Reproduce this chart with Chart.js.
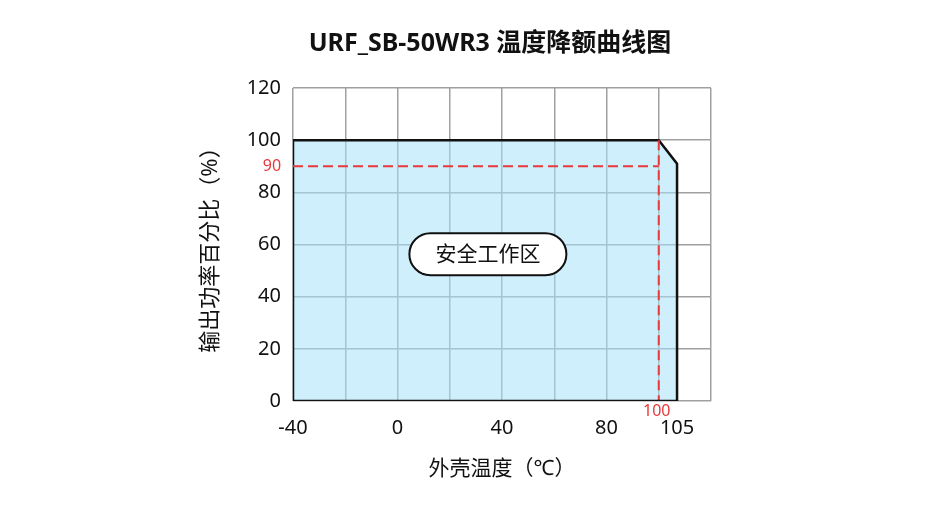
<!DOCTYPE html>
<html>
<head>
<meta charset="utf-8">
<script src="https://cdn.jsdelivr.net/npm/chart.js@4"></script>
<style>
  html, body { margin: 0; padding: 0; background: #fff; }
  #wrap { width: 950px; height: 510px; }
</style>
</head>
<body>
<div id="wrap"><canvas id="derating"></canvas></div>
<script>
// 降额曲线数据
const curveTemp = [-40, -40, 100, 107, 107];
const curvePower = [0, 100, 100, 91, 0];
// 底边
const baseTemp = [-40, 107];
const basePower = [0, 0];

// 红色虚线参考
const refHTemp = [-40, 100];
const refHPower = [90, 90];
const refVTemp = [100, 100];
const refVPower = [100, 0];

// 坐标刻度
const xTickValues = [-40, -20, 0, 20, 40, 60, 80, 100, 107, 120];
const xTickLabels = ['-40', '', '0', '', '40', '', '80', '', '105', ''];
const yTickValues = [0, 20, 40, 60, 80, 100, 120];
const yTickLabels = ['0', '20', '40', '60', '80', '100', '120'];

const fontFamily = '"Noto Sans", "Noto Sans CJK SC", sans-serif';
const red = '#e8393b';

const toPoints = (xs, ys) => xs.map((x, i) => ({ x: x, y: ys[i] }));

// 标题、安全工作区标签、红色数值
const decorations = {
    id: 'decorations',
    afterDraw(chart) {
        const ctx = chart.ctx;
        const xs = chart.scales.x;
        const ys = chart.scales.y;
        ctx.save();

        ctx.fillStyle = '#111';
        ctx.font = 'bold 25px ' + fontFamily;
        ctx.textAlign = 'center';
        ctx.textBaseline = 'middle';
        ctx.fillText('URF_SB-50WR3 温度降额曲线图', 490, 44);

        // 安全工作区
        const cx = xs.getPixelForValue(34.6);
        const cy = ys.getPixelForValue(56.3);
        const w = 157, h = 42, r = 21;
        ctx.beginPath();
        ctx.roundRect(cx - w / 2, cy - h / 2, w, h, r);
        ctx.fillStyle = '#fff';
        ctx.fill();
        ctx.lineWidth = 2;
        ctx.strokeStyle = '#111';
        ctx.stroke();
        ctx.fillStyle = '#111';
        ctx.font = '21px ' + fontFamily;
        ctx.fillText('安全工作区', cx, cy + 1);

        // 红色标注
        ctx.fillStyle = red;
        ctx.font = '16px ' + fontFamily;
        ctx.fillText('90', xs.left - 21, ys.getPixelForValue(90));
        ctx.fillText('100', xs.getPixelForValue(100) - 2, ys.bottom + 10);
        ctx.restore();
    }
};

const ctx = document.getElementById('derating').getContext('2d');
const chart = new Chart(ctx, {
    type: 'line',
    data: {
        datasets: [
            {
                data: toPoints(refHTemp, refHPower),
                borderColor: red,
                borderWidth: 2,
                borderDash: [10, 5],
                pointRadius: 0,
                fill: false,
                order: 1
            },
            {
                data: toPoints(refVTemp, refVPower),
                borderColor: red,
                borderWidth: 2,
                borderDash: [10, 5],
                pointRadius: 0,
                fill: false,
                order: 1
            },
            {
                data: toPoints(baseTemp, basePower),
                borderColor: '#111',
                borderWidth: 2.5,
                pointRadius: 0,
                fill: false,
                order: 0
            },
            {
                data: toPoints(curveTemp, curvePower),
                fill: 'origin',
                backgroundColor: 'rgba(170, 225, 250, 0.55)',
                borderColor: '#111',
                borderWidth: 2.5,
                pointRadius: 0,
                tension: 0,
                order: 2
            }
        ]
    },
    options: {
        responsive: true,
        maintainAspectRatio: false,
        animation: false,
        layout: { padding: { left: 198, right: 239, top: 88, bottom: 0 } },
        plugins: {
            legend: { display: false },
            tooltip: { enabled: false }
        },
        scales: {
            x: {
                type: 'linear',
                min: -40,
                max: 120,
                afterBuildTicks: (scale) => {
                    scale.ticks = xTickValues.map(v => ({ value: v }));
                },
                afterFit: (scale) => { scale.height = 109; },
                ticks: {
                    autoSkip: false,
                    maxRotation: 0,
                    padding: 15,
                    color: '#111',
                    font: { family: fontFamily, size: 20 },
                    callback: (v) => xTickLabels[xTickValues.indexOf(v)]
                },
                grid: {
                    color: (c) => (c.tick && c.tick.value === 107 ? 'rgba(0,0,0,0)' : '#a0a0a0'),
                    lineWidth: 1.5,
                    drawTicks: false
                },
                border: { display: false },
                title: {
                    display: true,
                    text: '外壳温度（℃）',
                    color: '#111',
                    font: { family: fontFamily, size: 21 },
                    padding: { top: 0, bottom: 28 }
                }
            },
            y: {
                type: 'linear',
                min: 0,
                max: 120,
                afterBuildTicks: (scale) => {
                    scale.ticks = yTickValues.map(v => ({ value: v }));
                },
                afterFit: (scale) => { scale.width = 95; },
                ticks: {
                    padding: 12,
                    color: '#111',
                    font: { family: fontFamily, size: 20 },
                    callback: (v) => yTickLabels[yTickValues.indexOf(v)]
                },
                grid: {
                    color: '#a0a0a0',
                    lineWidth: 1.5,
                    drawTicks: false
                },
                border: { display: false },
                title: {
                    display: true,
                    text: '输出功率百分比（%）',
                    color: '#111',
                    font: { family: fontFamily, size: 22 },
                    padding: { top: 0, bottom: 0 }
                }
            }
        }
    },
    plugins: [decorations]
});
</script>
</body>
</html>
